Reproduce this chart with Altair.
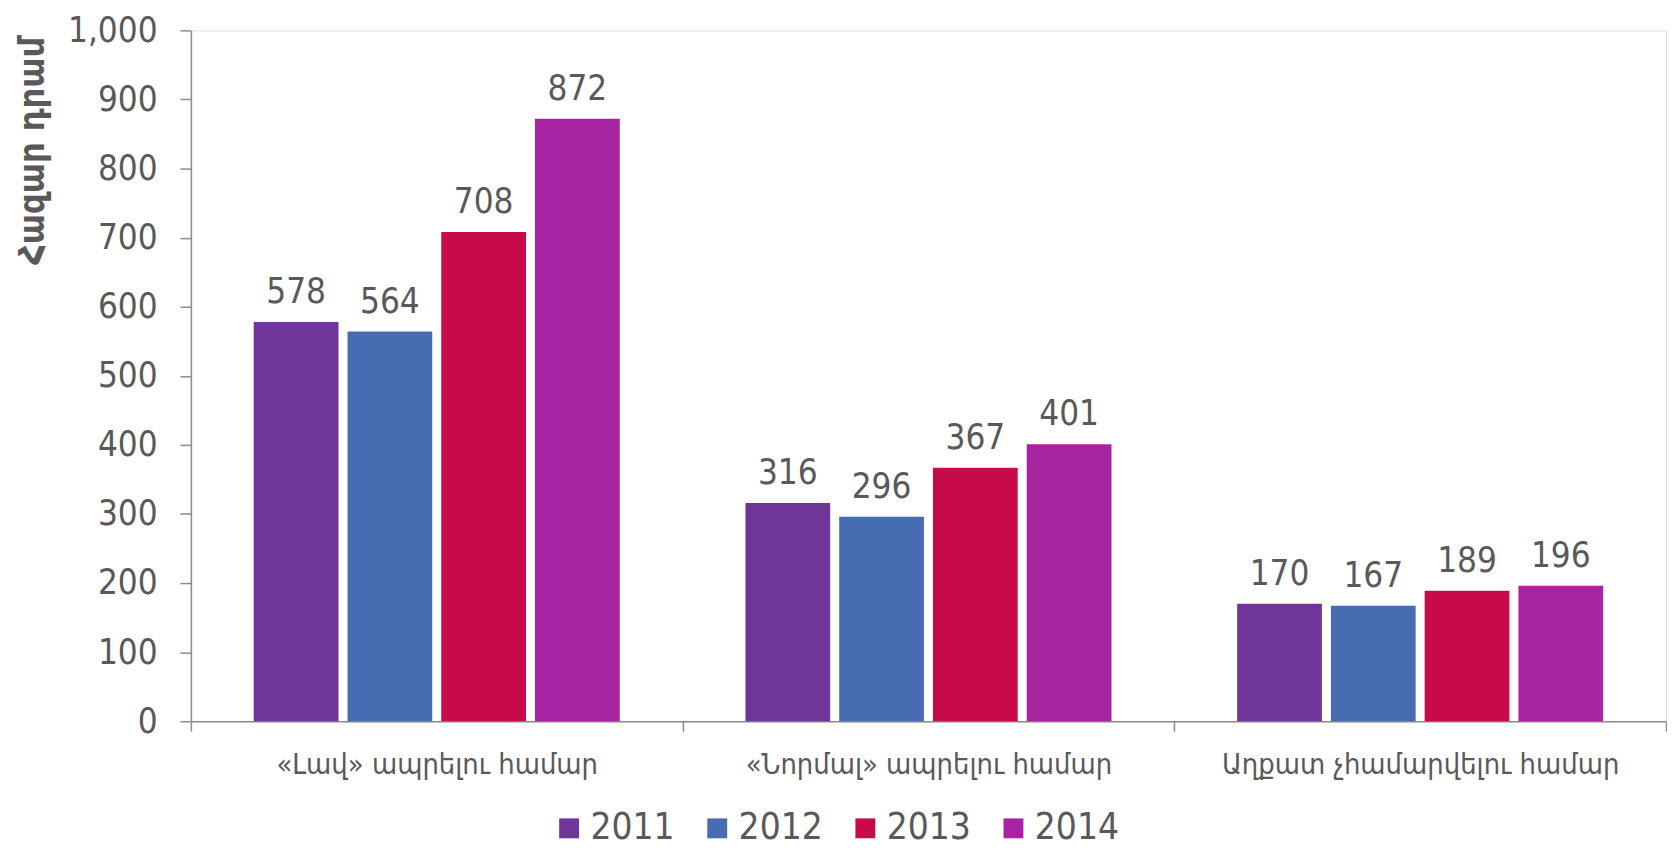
import altair as alt
import pandas as pd

categories = ["«Լավ» ապրելու համար", "«Նորմալ» ապրելու համար", "Աղքատ չհամարվելու համար"]
years = ["2011", "2012", "2013", "2014"]
values_2011 = [578, 316, 170]
values_2012 = [564, 296, 167]
values_2013 = [708, 367, 189]
values_2014 = [872, 401, 196]
colors = ["#703599", "#476CB1", "#C70B4A", "#A823A2"]

series = [values_2011, values_2012, values_2013, values_2014]
rows = []
for yi, yr in enumerate(years):
    for ci, cat in enumerate(categories):
        rows.append({"category": cat, "year": yr, "value": series[yi][ci]})
df = pd.DataFrame(rows)

FONT = "DejaVu Sans Condensed"
GREY = "#595959"
AXIS = "#8c8c8c"

x_enc = alt.X("category:N", sort=categories, title=None,
              scale=alt.Scale(paddingInner=0, paddingOuter=0),
              axis=alt.Axis(labelAngle=0, tickBand="extent", tickSize=10,
                            labelFontSize=29, labelColor=GREY, labelFont=FONT,
                            labelBaseline="middle", labelPadding=34,
                            domainColor=AXIS, tickColor=AXIS, domainWidth=1.5,
                            tickWidth=1.5, labelLimit=600))
xoff = alt.XOffset("year:N", sort=years,
                   scale=alt.Scale(paddingInner=0.096, paddingOuter=0.67))

y_enc = alt.Y("value:Q", title="Հազար դրամ",
              scale=alt.Scale(domain=[0, 1000], nice=False),
              axis=alt.Axis(values=list(range(0, 1001, 100)), format=",d",
                            grid=False, tickSize=11, labelPadding=23,
                            labelFontSize=35, labelColor=GREY, labelFont=FONT,
                            domainColor=AXIS, tickColor=AXIS, domainWidth=1.5,
                            tickWidth=1.5,
                            titleFont=FONT, titleFontSize=36, titleFontWeight="bold",
                            titleColor=GREY, titleAngle=270, titleX=-176, titleY=6,
                            titleAlign="right", titleBaseline="top"))

bars = alt.Chart(df).mark_bar().encode(
    x=x_enc,
    xOffset=xoff,
    y=y_enc,
    color=alt.Color("year:N", sort=years,
                    scale=alt.Scale(domain=years, range=colors),
                    legend=alt.Legend(title=None, orient="none", direction="horizontal",
                                      columns=4, legendX=362, legendY=784,
                                      symbolType="square", symbolSize=400,
                                      symbolStrokeWidth=0, labelFontSize=37,
                                      labelFont=FONT, labelColor=GREY,
                                      labelOffset=3, columnPadding=24,
                                      padding=0)),
)

labels = alt.Chart(df).mark_text(baseline="alphabetic", dy=-19, fontSize=35,
                                 font=FONT, color=GREY).encode(
    x=alt.X("category:N", sort=categories),
    xOffset=alt.XOffset("year:N", sort=years),
    y="value:Q",
    text="value:Q",
)

chart = (bars + labels).properties(
    width=1484, height=695,
    padding={"left": 7, "top": 3, "right": 0, "bottom": 0},
).configure_view(stroke=None).configure(background="white")

chart.save("out.html", embed_options={"renderer": "svg", "actions": False})
